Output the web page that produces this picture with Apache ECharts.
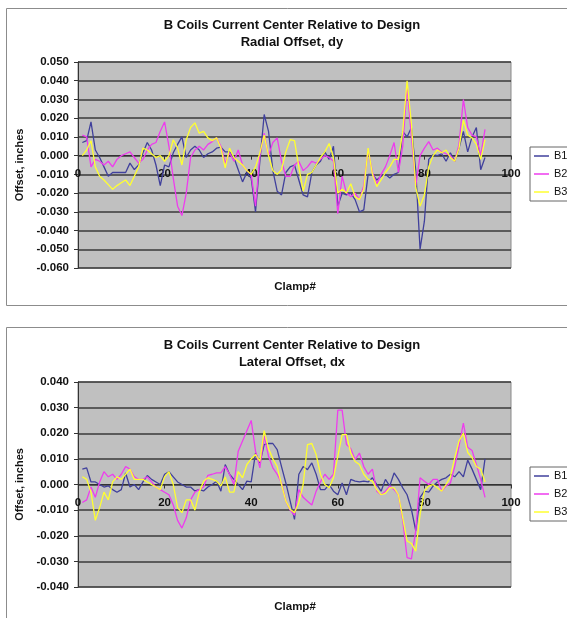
<!DOCTYPE html>
<html>
<head>
<meta charset="utf-8">
<script src="https://cdn.jsdelivr.net/npm/echarts@6/dist/echarts.min.js"></script>
<style>
html,body{margin:0;padding:0;background:#fff;}
#c{width:567px;height:618px;}
</style>
</head>
<body>
<div id="c"></div>
<script>
// Clamp numbers (x values)
var clamps = [1,2,3,4,5,6,7,8,9,10,11,12,13,14,15,16,17,18,19,20,21,22,23,24,25,26,27,28,29,30,31,32,33,34,35,36,37,38,39,40,41,42,43,44,45,46,47,48,49,50,51,52,53,54,55,56,57,58,59,60,61,62,63,64,65,66,67,68,69,70,71,72,73,74,75,76,77,78,79,80,81,82,83,84,85,86,87,88,89,90,91,92,93,94];

// Radial offset, dy (inches)
var dyB1 = [0.007,0.008,0.018,0.003,-0.001,-0.006,-0.011,-0.009,-0.009,-0.009,-0.009,-0.004,-0.0075,-0.005,0.0015,0.007,0.003,-0.005,-0.016,-0.005,-0.006,0.0015,0.006,0.010,-0.001,0.003,0.005,0.003,-0.001,
0.001,0.002,0.004,0.0045,0.002,0.002,-0.001,-0.0075,-0.014,-0.009,-0.012,-0.030,-0.003,0.022,0.013,-0.008,-0.019,-0.021,-0.009,-0.006,-0.005,-0.013,-0.021,-0.022,-0.009,-0.005,-0.003,0.002,-0.002,0.005,
-0.027,-0.020,-0.021,-0.020,-0.0235,-0.030,-0.029,-0.010,-0.010,-0.013,-0.011,-0.010,-0.012,-0.010,-0.009,0.013,0.010,0.015,-0.008,-0.050,-0.035,-0.002,0.0005,0.000,0.001,-0.003,0.0015,-0.003,0.004,0.013,0.002,0.010,0.015,-0.0075,-0.001];
var dyB2 = [0.011,0.010,-0.006,-0.002,-0.003,-0.005,-0.003,-0.006,-0.002,0.000,0.001,0.002,-0.001,-0.004,-0.002,0.003,0.006,0.007,0.013,0.018,0.005,-0.012,-0.027,-0.032,-0.020,-0.001,0.003,0.005,0.003,
0.006,0.0075,0.0095,0.005,-0.004,0.0015,-0.003,0.003,-0.005,-0.008,-0.010,-0.027,0.000,0.012,0.000,0.007,0.0095,-0.003,-0.011,-0.011,-0.005,-0.003,-0.008,-0.006,-0.003,-0.004,-0.002,0.000,-0.001,-0.003,
-0.031,-0.011,-0.020,-0.022,-0.020,-0.0235,-0.016,0.003,-0.009,-0.015,-0.010,-0.006,0.000,0.007,-0.009,0.005,0.037,0.010,-0.016,0.000,0.004,0.0075,0.003,0.004,0.002,0.001,0.000,-0.003,0.006,0.030,0.015,0.011,0.010,0.000,0.014];
var dyB3 = [0.000,0.003,0.008,-0.006,-0.011,-0.013,-0.0155,-0.018,-0.016,-0.0145,-0.013,-0.016,-0.011,-0.006,0.004,0.003,0.001,-0.001,0.000,-0.003,0.000,0.0085,0.004,-0.005,0.0085,0.015,0.0175,0.012,0.013,
0.0095,0.008,0.0095,0.004,-0.0065,0.004,-0.001,-0.003,-0.005,-0.008,-0.010,-0.006,0.0015,0.011,0.000,-0.008,-0.010,-0.0075,0.002,0.0085,0.008,-0.006,-0.019,-0.010,-0.009,-0.005,-0.001,0.002,0.0065,-0.001,
-0.020,-0.018,-0.020,-0.015,-0.022,-0.0235,-0.018,0.004,-0.010,-0.0165,-0.013,-0.009,-0.006,-0.002,-0.002,0.013,0.040,0.017,-0.017,-0.027,-0.021,-0.006,0.000,0.003,0.0015,0.003,-0.001,-0.003,0.004,0.019,0.011,0.0095,0.006,-0.002,0.0085];

// Lateral offset, dx (inches)
var dxB1 = [0.006,0.0065,0.001,0.001,0.000,-0.001,-0.0005,-0.002,-0.003,-0.002,0.0045,-0.001,0.000,-0.002,0.001,0.0035,0.002,0.001,0.000,0.004,0.005,0.003,0.001,0.000,-0.001,-0.001,-0.0025,-0.002,-0.0025,
-0.001,0.000,0.0013,-0.0026,0.0078,0.004,0.002,0.000,-0.002,0.0013,0.001,0.0123,0.0084,0.0156,0.016,0.016,0.0136,0.007,0.0006,-0.0065,-0.0136,0.004,0.007,0.0058,0.0084,0.004,-0.002,-0.002,0.000,-0.0026,
-0.004,0.0006,-0.004,0.002,0.0013,0.001,0.0013,0.001,0.0026,0.000,-0.0026,0.002,-0.0006,0.0045,0.002,-0.0013,-0.004,-0.0097,-0.018,-0.005,-0.0026,-0.003,-0.0006,0.001,0.002,0.0026,0.004,0.003,0.005,0.003,0.0095,0.006,0.002,-0.002,0.010];
var dxB2 = [-0.007,-0.006,-0.001,-0.005,0.001,0.005,0.003,0.004,0.002,0.004,0.007,0.006,0.003,0.002,0.002,0.003,0.001,-0.001,-0.002,-0.003,-0.004,-0.008,-0.014,-0.017,-0.013,-0.006,-0.003,-0.002,-0.001,
0.0036,0.004,0.0045,0.0045,0.007,0.004,0.000,0.013,0.017,0.021,0.025,0.013,0.0065,0.019,0.011,0.0065,0.004,0.0006,-0.0065,-0.010,-0.012,-0.002,-0.005,-0.0065,-0.008,-0.0026,0.001,0.004,0.002,0.004,
0.029,0.029,0.0156,0.014,0.0097,0.0123,0.007,0.004,0.006,-0.0026,-0.004,-0.0026,-0.0006,-0.002,-0.004,-0.014,-0.0285,-0.029,-0.018,0.0026,0.0013,0.000,0.002,0.002,-0.0026,-0.0006,0.0006,0.007,0.015,0.024,0.0145,0.0133,0.0078,0.002,-0.005];
var dxB3 = [0.003,0.002,-0.003,-0.014,-0.009,-0.003,-0.006,0.001,0.003,0.002,0.004,0.006,0.002,0.002,0.002,0.001,0.000,-0.001,-0.002,0.003,0.005,0.000,-0.009,-0.011,-0.006,-0.006,-0.010,-0.003,0.0013,
0.0026,0.002,0.0013,-0.0006,0.003,-0.003,-0.003,0.005,0.0026,0.0078,0.010,0.0117,0.009,0.021,0.014,0.010,0.007,0.000,-0.0065,-0.0097,-0.011,-0.007,0.000,0.0156,0.016,0.0117,0.004,0.000,-0.0013,0.0026,
0.011,0.0195,0.0195,0.0123,0.009,0.0078,0.004,0.002,0.0013,-0.002,-0.004,-0.0035,-0.0013,-0.0013,-0.004,-0.013,-0.022,-0.023,-0.026,-0.0117,-0.0026,-0.0006,0.000,-0.0013,-0.0026,0.000,0.003,0.0104,0.017,0.020,0.0125,0.0105,0.007,0.006,0.001];

var seriesNames = ['B1','B2','B3'];
var seriesColors = ['#40409c','#ee3cee','#ffff30'];
var titleText = 'B Coils Current Center Relative to Design';
var subTitles = ['Radial Offset, dy','Lateral Offset, dx'];
var xName = 'Clamp#';
var yName = 'Offset, inches';

function pairs(ys){ return clamps.map(function(c,i){ return [c, ys[i]]; }); }

var FONT = 'Liberation Sans, Arial, sans-serif';
var chart = echarts.init(document.getElementById('c'), null, {renderer:'canvas'});

// grid geometry
var G = [
  {top:62, height:206, ymin:-0.06, ymax:0.05},
  {top:382, height:205, ymin:-0.04, ymax:0.04}
];
function zeroOffset(g){ // distance from grid bottom up to the zero line
  return g.height * (0 - g.ymin) / (g.ymax - g.ymin);
}

function xAxisCfg(gi){
  return {gridIndex:gi, type:'value', min:0, max:100, interval:20, position:'bottom',
    offset:-zeroOffset(G[gi]),
    axisLine:{show:true, onZero:false, lineStyle:{color:'#333', width:1}},
    axisTick:{show:true, length:4, inside:false, lineStyle:{color:'#333'}},
    axisLabel:{color:'#111', fontFamily:FONT, fontWeight:'bold', fontSize:11.5, margin:12},
    splitLine:{show:false}};
}
function yAxisCfg(gi){
  return {gridIndex:gi, type:'value', min:G[gi].ymin, max:G[gi].ymax, interval:0.01,
    name:yName, nameLocation:'middle', nameGap:49, nameRotate:90,
    nameTextStyle:{color:'#111', fontFamily:FONT, fontWeight:'bold', fontSize:11},
    axisLine:{show:true, lineStyle:{color:'#333'}},
    axisTick:{show:true, length:4, lineStyle:{color:'#333'}},
    axisLabel:{color:'#111', fontFamily:FONT, fontWeight:'bold', fontSize:11.5, margin:9,
      formatter:function(v){ return v.toFixed(3); }},
    splitLine:{show:true, lineStyle:{color:'#3a3a3a', width:1.5}}};
}
function legendCfg(top){
  return {data:seriesNames, orient:'vertical', left:530, top:top, icon:'rect', itemWidth:15, itemHeight:1.5,
    itemGap:6, padding:[3,8,3,4], backgroundColor:'#fff', borderColor:'#666', borderWidth:1, borderRadius:0,
    textStyle:{color:'#111', fontFamily:FONT, fontSize:11, lineHeight:12}, selectedMode:false};
}
var dySets = [dyB1, dyB2, dyB3];
var dxSets = [dxB1, dxB2, dxB3];
var series = [];
[dySets, dxSets].forEach(function(sets, gi){
  sets.forEach(function(d, k){
    series.push({name:seriesNames[k], type:'line', xAxisIndex:gi, yAxisIndex:gi, data:pairs(d),
      showSymbol:false, symbol:'none', lineStyle:{color:seriesColors[k], width:1.3}, itemStyle:{color:seriesColors[k]},
      animation:false, z:2+k});
  });
});

var TF = 'bold 13px '+FONT;
chart.setOption({
  animation:false,
  backgroundColor:'#fff',
  color:seriesColors,
  grid:[
    {left:78, top:G[0].top, width:433, height:G[0].height, show:true, backgroundColor:'#c0c0c0', borderColor:'#8a8a8a', borderWidth:1},
    {left:78, top:G[1].top, width:433, height:G[1].height, show:true, backgroundColor:'#c0c0c0', borderColor:'#8a8a8a', borderWidth:1}
  ],
  xAxis:[xAxisCfg(0), xAxisCfg(1)],
  yAxis:[yAxisCfg(0), yAxisCfg(1)],
  legend:[legendCfg(147), legendCfg(467)],
  series:series,
  graphic:[
    {type:'rect', shape:{x:6.5, y:8.5, width:620, height:297}, style:{fill:null, stroke:'#8c8c8c', lineWidth:1}, z:-1},
    {type:'rect', shape:{x:6.5, y:327.5, width:620, height:320}, style:{fill:null, stroke:'#8c8c8c', lineWidth:1}, z:-1},
    {type:'text', x:292, y:25, style:{text:titleText, fill:'#111', font:TF, textAlign:'center', textVerticalAlign:'middle'}},
    {type:'text', x:292, y:42, style:{text:subTitles[0], fill:'#111', font:TF, textAlign:'center', textVerticalAlign:'middle'}},
    {type:'text', x:292, y:345, style:{text:titleText, fill:'#111', font:TF, textAlign:'center', textVerticalAlign:'middle'}},
    {type:'text', x:292, y:362, style:{text:subTitles[1], fill:'#111', font:TF, textAlign:'center', textVerticalAlign:'middle'}},
    {type:'text', x:295, y:287, style:{text:xName, fill:'#111', font:'bold 11.5px '+FONT, textAlign:'center', textVerticalAlign:'middle'}},
    {type:'text', x:295, y:607, style:{text:xName, fill:'#111', font:'bold 11.5px '+FONT, textAlign:'center', textVerticalAlign:'middle'}}
  ]
});
</script>
</body>
</html>
